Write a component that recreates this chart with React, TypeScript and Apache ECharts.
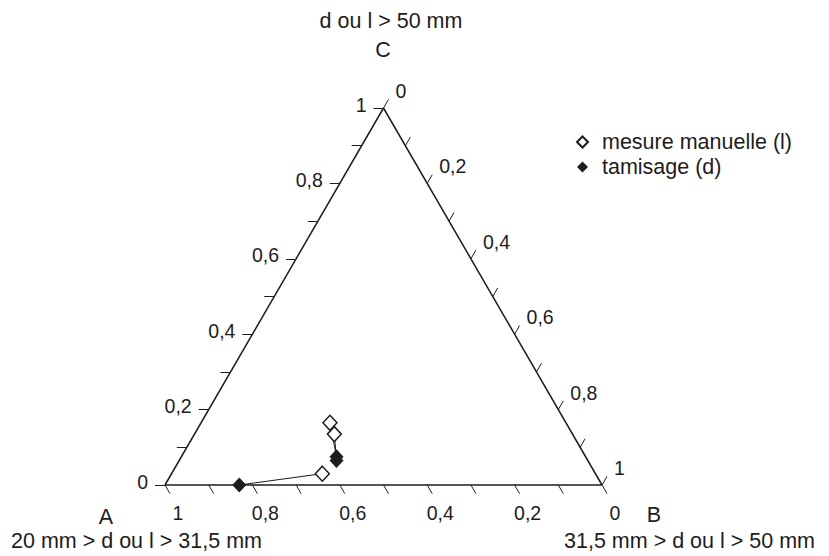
import React, { useEffect, useRef } from "react";
import * as echarts from "echarts";

const S = Math.sqrt(3) / 2;
const FONT = "'Liberation Sans', Arial, Helvetica, sans-serif";
const INK = "#1e1c1d";

// Legend names
const seriesNames = ["mesure manuelle (l)", "tamisage (d)"];

// Fractions A (20–31,5 mm), B (31,5–50 mm), C (> 50 mm) for each sample
const manuelleA = [0.54, 0.545, 0.625];
const manuelleB = [0.295, 0.32, 0.345];
const manuelleC = [0.165, 0.135, 0.03];

const tamisageA = [0.57, 0.575, 0.83];
const tamisageB = [0.355, 0.36, 0.17];
const tamisageC = [0.075, 0.065, 0.0];

// Axis ticks and labels
const tickValues = [0, 0.1, 0.2, 0.3, 0.4, 0.5, 0.6, 0.7, 0.8, 0.9, 1];
const labelValues = [0, 0.2, 0.4, 0.6, 0.8, 1];
const tickLabels = ["0", "0,2", "0,4", "0,6", "0,8", "1"];

// Vertex names and classes
const vertexNames = ["A", "B", "C"];
const vertexTitles = [
  "20 mm > d ou l > 31,5 mm",
  "31,5 mm > d ou l > 50 mm",
  "d ou l > 50 mm",
];

// ternary (b, c) -> cartesian
const toXY = (b: number, c: number) => [b + c / 2, c * S];

export default function App() {
  const ref = useRef<HTMLDivElement>(null);

  useEffect(() => {
    if (!ref.current) return;
    const chart = echarts.init(ref.current, null, { renderer: "svg" });

    const A = toXY(0, 0);
    const B = toXY(1, 0);
    const C = toXY(0, 1);
    const L = 0.0229; // tick length in data units

    const tickSegs: any[] = [];
    tickValues.forEach((v) => {
      // left axis: C fraction, ticks pointing left
      const pl = toXY(0, v);
      tickSegs.push({ coords: [pl, [pl[0] - L, pl[1]]] });
      // bottom axis: A fraction, ticks pointing down-right
      const pb = toXY(1 - v, 0);
      tickSegs.push({ coords: [pb, [pb[0] + 0.5 * L, pb[1] - S * L]] });
      // right axis: B fraction, ticks pointing up-right
      const pr = toXY(v, 1 - v);
      tickSegs.push({ coords: [pr, [pr[0] + 0.5 * L, pr[1] + S * L]] });
    });

    const manuelle = manuelleA.map((_, i) => toXY(manuelleB[i], manuelleC[i]));
    const tamisage = tamisageA.map((_, i) => toXY(tamisageB[i], tamisageC[i]));
    const pairs = manuelle.map((p, i) => ({ coords: [p, tamisage[i]] }));

    const labelBase = {
      show: true,
      position: "inside",
      formatter: "{b}",
      color: INK,
      opacity: 1,
      textBorderWidth: 0,
      fontSize: 19.5,
      fontFamily: FONT,
      verticalAlign: "middle",
    };

    const labelSeries = (data: any[], align: string, offset: number[]) => ({
      type: "scatter",
      silent: true,
      clip: false,
      symbol: "circle",
      symbolSize: 1,
      itemStyle: { color: "rgba(255,255,255,0)", opacity: 1 },
      label: { ...labelBase, align, offset },
      data,
      z: 1,
    });

    const txt = (text: string, x: number, y: number, align: string, size: number) => ({
      type: "text",
      x,
      y,
      silent: true,
      style: {
        text,
        font: `${size}px ${FONT}`,
        fill: INK,
        textAlign: align,
        textVerticalAlign: "middle",
      },
    });

    const option: any = {
      animation: false,
      backgroundColor: "#ffffff",
      grid: { left: 165, top: 108, width: 437, height: 377 },
      xAxis: { type: "value", min: 0, max: 1, show: false },
      yAxis: { type: "value", min: 0, max: S, show: false },
      legend: {
        data: seriesNames,
        orient: "vertical",
        left: 576,
        top: 131,
        padding: 0,
        itemGap: 3,
        itemWidth: 11,
        itemHeight: 11,
        icon: "diamond",
        selectedMode: false,
        textStyle: {
          fontSize: 21.5,
          lineHeight: 22,
          fontFamily: FONT,
          color: INK,
          padding: [0, 0, 0, 9],
        },
      },
      graphic: [
        txt(vertexNames[0], 106, 517, "center", 21.5),
        txt(vertexNames[1], 654, 515, "center", 21.5),
        txt(vertexNames[2], 383, 50, "center", 21.5),
        txt(vertexTitles[0], 11, 541, "left", 21.5),
        txt(vertexTitles[1], 815, 541, "right", 21.5),
        txt(vertexTitles[2], 391, 20.5, "center", 21.5),
      ],
      series: [
        {
          type: "lines",
          name: "triangle",
          coordinateSystem: "cartesian2d",
          silent: true,
          clip: false,
          lineStyle: { color: INK, width: 1.5, opacity: 1 },
          data: [
            { coords: [A, B] },
            { coords: [B, C] },
            { coords: [C, A] },
          ],
          z: 2,
        },
        {
          type: "lines",
          name: "ticks",
          coordinateSystem: "cartesian2d",
          silent: true,
          clip: false,
          lineStyle: { color: INK, width: 1, opacity: 1 },
          data: tickSegs,
          z: 2,
        },
        labelSeries(
          labelValues.map((a, i) => ({ name: tickLabels[i], value: toXY(1 - a, 0) })),
          "center",
          [13, 27.5]
        ),
        labelSeries(
          labelValues.map((b, i) => ({ name: tickLabels[i], value: toXY(b, 1 - b) })),
          "left",
          [12, -17]
        ),
        labelSeries(
          labelValues.map((c, i) => ({ name: tickLabels[i], value: toXY(0, c) })),
          "right",
          [-17, -3.5]
        ),
        {
          type: "lines",
          name: "pairs",
          coordinateSystem: "cartesian2d",
          silent: true,
          clip: false,
          lineStyle: { color: INK, width: 1, opacity: 1 },
          data: pairs,
          z: 3,
        },
        {
          type: "scatter",
          name: seriesNames[0],
          symbol: "diamond",
          symbolSize: [14, 15],
          clip: false,
          silent: true,
          itemStyle: { color: "#ffffff", borderColor: INK, borderWidth: 1.5, opacity: 1 },
          data: manuelle,
          z: 4,
        },
        {
          type: "scatter",
          name: seriesNames[1],
          symbol: "diamond",
          symbolSize: [14, 15],
          clip: false,
          silent: true,
          itemStyle: { color: INK, borderColor: INK, borderWidth: 0, opacity: 1 },
          data: tamisage,
          z: 5,
        },
      ],
    };

    chart.setOption(option);
    return () => chart.dispose();
  }, []);

  return (
    <div
      ref={ref}
      style={{ position: "fixed", left: 0, top: 0, width: 829, height: 556, background: "#fff" }}
    />
  );
}
